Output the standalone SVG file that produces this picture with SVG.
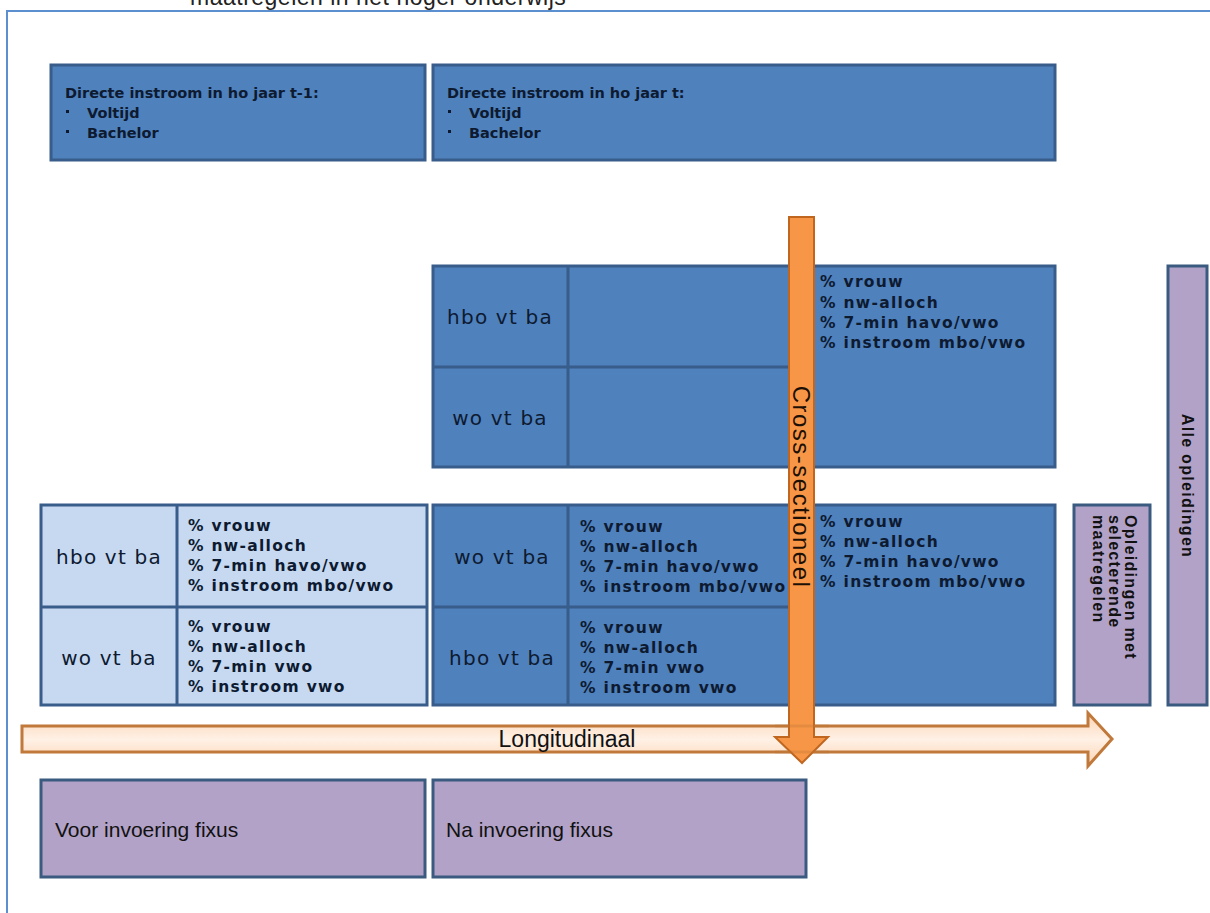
<svg xmlns="http://www.w3.org/2000/svg" width="1210" height="913" viewBox="0 0 1210 913">
<defs>
<style>
.blue{fill:#4f81bd;stroke:#385d8a;stroke-width:3}
.light{fill:#c6d9f0;stroke:#385d8a;stroke-width:3}
.purple{fill:#b2a2c7;stroke:#3b5a80;stroke-width:3}
.div{stroke:#385d8a;stroke-width:3;fill:none}
.hdr{font-family:"DejaVu Sans",Verdana,sans-serif;font-size:14.5px;font-weight:bold;letter-spacing:0px;fill:#0d1a30}
.pct{font-family:"DejaVu Sans",Verdana,sans-serif;font-size:15.5px;font-weight:bold;letter-spacing:1.3px;fill:#0d1a30}
.row{font-family:"DejaVu Sans",Verdana,sans-serif;font-size:20px;letter-spacing:1.2px;fill:#0d1a30;text-anchor:middle}
.vt{font-family:"Liberation Sans",Arial,sans-serif;font-size:16px;font-weight:bold;letter-spacing:1.3px;fill:#111}
.fx{font-family:"Liberation Sans",Arial,sans-serif;font-size:21px;fill:#111}
.dot{fill:#0d1a30}
</style>
<linearGradient id="peach" x1="0" y1="0" x2="0" y2="1">
<stop offset="0" stop-color="#fbd3b2"/>
<stop offset="0.5" stop-color="#fff1e6"/>
<stop offset="1" stop-color="#fbd3b2"/>
</linearGradient>
</defs>
<rect width="1210" height="913" fill="#ffffff"/>
<text x="190" y="5" font-family="Liberation Sans, Arial, sans-serif" font-size="23" letter-spacing="0.5" fill="#222">maatregelen in het hoger onderwijs</text>
<path d="M7 913 V11 H1210" fill="none" stroke="#5b8fd0" stroke-width="2"/>

<g id="top-t1">
<rect class="blue" x="51" y="65" width="374" height="95"/>
<text class="hdr" x="65" y="98">Directe instroom in ho jaar t-1:</text>
<rect class="dot" x="66" y="110" width="3" height="3"/><text class="hdr" x="87" y="118">Voltijd</text>
<rect class="dot" x="66" y="130" width="3" height="3"/><text class="hdr" x="87" y="138">Bachelor</text>
</g>
<g id="top-t">
<rect class="blue" x="433" y="65" width="622" height="95"/>
<text class="hdr" x="447" y="98">Directe instroom in ho jaar t:</text>
<rect class="dot" x="448" y="110" width="3" height="3"/><text class="hdr" x="469" y="118">Voltijd</text>
<rect class="dot" x="448" y="130" width="3" height="3"/><text class="hdr" x="469" y="138">Bachelor</text>
</g>

<g id="mid-block">
<rect class="blue" x="433" y="266" width="622" height="201"/>
<path class="div" d="M568 266 V467 M433 367 H795"/>
<text class="row" x="500" y="324">hbo vt ba</text>
<text class="row" x="500" y="425">wo vt ba</text>
<text class="pct" x="820" y="287">% vrouw</text>
<text class="pct" x="820" y="308">% nw-alloch</text>
<text class="pct" x="820" y="328">% 7-min havo/vwo</text>
<text class="pct" x="820" y="348">% instroom mbo/vwo</text>
</g>

<g id="left-block">
<rect class="light" x="41" y="505" width="386" height="200"/>
<path class="div" d="M177 505 V705 M41 607 H427"/>
<text class="row" x="109" y="564">hbo vt ba</text>
<text class="row" x="109" y="665">wo vt ba</text>
<text class="pct" x="188" y="531">% vrouw</text>
<text class="pct" x="188" y="551">% nw-alloch</text>
<text class="pct" x="188" y="571">% 7-min havo/vwo</text>
<text class="pct" x="188" y="591">% instroom mbo/vwo</text>
<text class="pct" x="188" y="632">% vrouw</text>
<text class="pct" x="188" y="652">% nw-alloch</text>
<text class="pct" x="188" y="672">% 7-min vwo</text>
<text class="pct" x="188" y="692">% instroom vwo</text>
</g>

<g id="right-block">
<rect class="blue" x="433" y="505" width="622" height="200"/>
<path class="div" d="M568 505 V705 M433 607 H795"/>
<text class="row" x="502" y="564">wo vt ba</text>
<text class="row" x="502" y="665">hbo vt ba</text>
<text class="pct" x="580" y="532">% vrouw</text>
<text class="pct" x="580" y="552">% nw-alloch</text>
<text class="pct" x="580" y="572">% 7-min havo/vwo</text>
<text class="pct" x="580" y="592">% instroom mbo/vwo</text>
<text class="pct" x="580" y="633">% vrouw</text>
<text class="pct" x="580" y="653">% nw-alloch</text>
<text class="pct" x="580" y="673">% 7-min vwo</text>
<text class="pct" x="580" y="693">% instroom vwo</text>
<text class="pct" x="820" y="527">% vrouw</text>
<text class="pct" x="820" y="547">% nw-alloch</text>
<text class="pct" x="820" y="567">% 7-min havo/vwo</text>
<text class="pct" x="820" y="587">% instroom mbo/vwo</text>
</g>

<g id="selectief">
<rect class="purple" x="1074" y="505" width="76" height="200"/>
<text class="vt" transform="translate(1125 515) rotate(90)">Opleidingen met</text>
<text class="vt" transform="translate(1109 515) rotate(90)">selecterende</text>
<text class="vt" transform="translate(1093 515) rotate(90)">maatregelen</text>
</g>
<g id="alle">
<rect class="purple" x="1168" y="266" width="39" height="439"/>
<text class="vt" text-anchor="middle" transform="translate(1182 486) rotate(90)">Alle opleidingen</text>
</g>

<g id="voor-fixus">
<rect class="purple" x="41" y="780" width="384" height="97"/>
<text class="fx" x="55" y="837">Voor invoering fixus</text>
</g>
<g id="na-fixus">
<rect class="purple" x="433" y="780" width="373" height="97"/>
<text class="fx" x="446" y="837">Na invoering fixus</text>
</g>

<g id="connectors">
<g id="longitudinaal">
<path d="M22 726 H1088 V713 L1112 739 L1088 766 V752 H22 Z" fill="url(#peach)" stroke="#c0793a" stroke-width="3"/>
</g>
<g id="cross-sectioneel">
<path d="M789 217 H814 V737 H828 L802 763 L775 737 H789 Z" fill="#f79646" stroke="#c0661f" stroke-width="2"/>
</g>
<path d="M775 726 H829 M775 752 H829" stroke="#c0793a" stroke-width="3" opacity="0.35" fill="none"/>
<text font-family="Liberation Sans, Arial, sans-serif" font-size="24" letter-spacing="1.5" fill="#1c1006" text-anchor="middle" transform="translate(793 487) rotate(90)">Cross-sectioneel</text>
<text x="567" y="747" font-family="Liberation Sans, Arial, sans-serif" font-size="23" fill="#111" text-anchor="middle">Longitudinaal</text>
</g>
</svg>
